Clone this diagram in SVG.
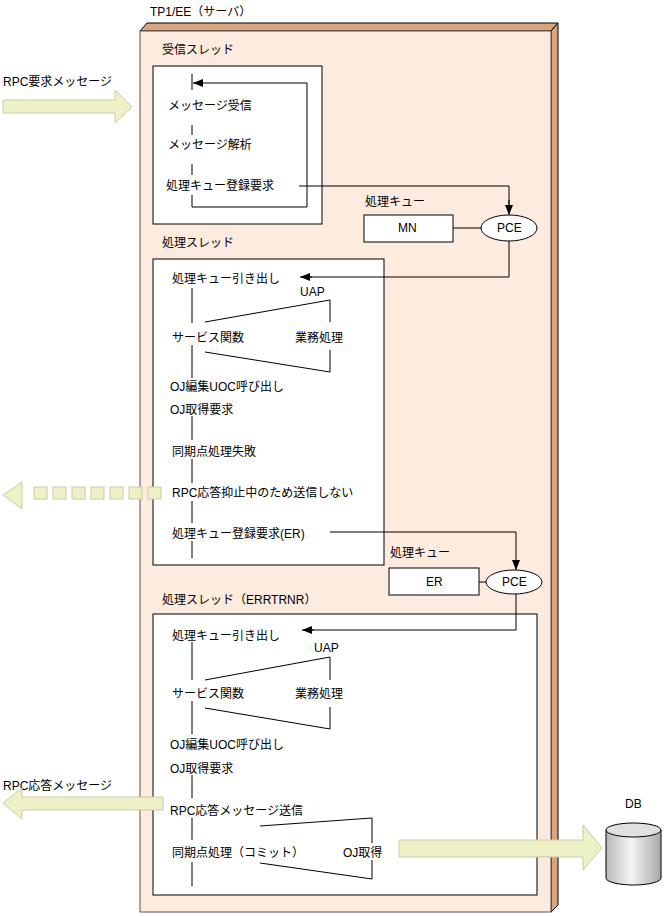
<svg xmlns="http://www.w3.org/2000/svg" width="668" height="916" viewBox="0 0 668 916">
<defs>
<marker id="ah" markerWidth="10" markerHeight="8" refX="10" refY="4" orient="auto" markerUnits="userSpaceOnUse"><path d="M0,0 L10,4 L0,8 z" fill="#000"/></marker>
<linearGradient id="cyl" x1="0" x2="1"><stop offset="0" stop-color="#b8b8b8"/><stop offset="0.45" stop-color="#f4f4f4"/><stop offset="1" stop-color="#a8a8a8"/></linearGradient>
</defs>
<style>
text{font-family:"Liberation Sans","Noto Sans CJK JP",sans-serif;font-size:12px;fill:#000}
.box{fill:#fff;stroke:#000;stroke-width:1}
.ln{fill:none;stroke:#000;stroke-width:1}
.fat{fill:#eef0c6;stroke:#c9cba6;stroke-width:1}
</style>
<rect width="668" height="916" fill="#fff"/>
<g id="server">
<polygon points="140,31 147,23 558,23 551,31" fill="#d9a57e" stroke="#000"/>
<polygon points="551,31 558,23 558,905 551,912" fill="#d9a57e" stroke="#000"/>
<rect x="140" y="31" width="411" height="881" fill="#fdebdf" stroke="#555"/>
<text x="150" y="16">TP1/EE（サーバ）</text>
</g>
<g id="recv-thread">
<text x="162" y="54">受信スレッド</text>
<rect class="box" x="153" y="66" width="169" height="158"/>
<path class="ln" d="M192,74 V90 M192,125 V135 M192,164 V175 M192,195 V207 H307 V83"/>
<line class="ln" x1="307" y1="83" x2="193" y2="83" marker-end="url(#ah)"/>
<text x="168" y="110">メッセージ受信</text>
<text x="168" y="149">メッセージ解析</text>
<text x="166" y="190">処理キュー登録要求</text>
</g>
<g id="queue-mn">
<text x="365" y="206">処理キュー</text>
<rect class="box" x="364" y="215" width="89" height="27"/>
<text x="398" y="232">MN</text>
<ellipse class="box" cx="509" cy="228" rx="28" ry="13"/>
<text x="497" y="232">PCE</text>
</g>
<g id="proc-thread">
<text x="162" y="247">処理スレッド</text>
<rect class="box" x="153" y="259" width="231" height="306"/>
<path class="ln" d="M192,288 V323 M192,345 V378 M192,416 V440 M192,459 V483 M192,501 V523 M192,541 V558"/>
<text x="172" y="283">処理キュー引き出し</text>
<text x="300" y="296">UAP</text>
<path class="ln" d="M205,322 L330,300 V322 M205,352 L330,372 V350"/>
<text x="172" y="342">サービス関数</text>
<text x="295" y="342">業務処理</text>
<text x="170" y="391">OJ編集UOC呼び出し</text>
<text x="170" y="414">OJ取得要求</text>
<text x="172" y="456">同期点処理失敗</text>
<text x="172" y="497">RPC応答抑止中のため送信しない</text>
<text x="172" y="538">処理キュー登録要求(ER)</text>
</g>
<g id="queue-er">
<text x="390" y="557">処理キュー</text>
<rect class="box" x="389" y="568" width="90" height="27"/>
<text x="426" y="586">ER</text>
<ellipse class="box" cx="514" cy="582" rx="28" ry="12"/>
<text x="502" y="586">PCE</text>
</g>
<g id="err-thread">
<text x="162" y="604">処理スレッド（ERRTRNR）</text>
<rect class="box" x="153" y="614" width="384" height="281"/>
<path class="ln" d="M192,642 V680 M192,701 V734 M192,775 V798 M192,818 V840 M192,862 V886"/>
<text x="172" y="640">処理キュー引き出し</text>
<text x="314" y="652">UAP</text>
<path class="ln" d="M205,680 L330,657 V680 M205,708 L330,729 V707"/>
<text x="172" y="698">サービス関数</text>
<text x="295" y="698">業務処理</text>
<text x="170" y="749">OJ編集UOC呼び出し</text>
<text x="170" y="773">OJ取得要求</text>
<text x="170" y="815">RPC応答メッセージ送信</text>
<path class="ln" d="M260,826 L372,818 V843 M260,863 L372,879 V860"/>
<text x="172" y="857">同期点処理（コミット）</text>
<text x="343" y="857">OJ取得</text>
</g>
<g id="db">
<text x="625" y="808">DB</text>
<path d="M606,830 V878 A27.5,7 0 0 0 661,878 V830" fill="url(#cyl)" stroke="#000"/>
<ellipse cx="633.5" cy="830" rx="27.5" ry="7" fill="#e0e0e0" stroke="#000"/>
</g>
<g id="external">
<text x="3" y="86">RPC要求メッセージ</text>
<text x="3" y="790">RPC応答メッセージ</text>
</g>
<g id="connectors">
<path class="ln" d="M299,186 H509 V205"/>
<line class="ln" x1="509" y1="200" x2="509" y2="215" marker-end="url(#ah)"/>
<line class="ln" x1="453" y1="228" x2="481" y2="228"/>
<path class="ln" d="M509,241 V277 H310"/>
<line class="ln" x1="312" y1="277" x2="300" y2="277" marker-end="url(#ah)"/>
<path class="ln" d="M330,532 H516 V555"/>
<line class="ln" x1="516" y1="555" x2="516" y2="570" marker-end="url(#ah)"/>
<line class="ln" x1="479" y1="582" x2="486" y2="582"/>
<path class="ln" d="M516,594 V630 H312"/>
<line class="ln" x1="314" y1="630" x2="302" y2="630" marker-end="url(#ah)"/>
<polygon class="fat" points="3,100 115,100 115,90 132,107 115,123 115,113 3,113"/>
<polygon class="fat" points="3,495 22,482 22,509"/>
<rect class="fat" x="34" y="487" width="13" height="12"/>
<rect class="fat" x="53" y="487" width="13" height="12"/>
<rect class="fat" x="72" y="487" width="13" height="12"/>
<rect class="fat" x="91" y="487" width="13" height="12"/>
<rect class="fat" x="110" y="487" width="13" height="12"/>
<rect class="fat" x="129" y="487" width="13" height="12"/>
<rect class="fat" x="148" y="487" width="13" height="12"/>
<polygon class="fat" points="3,803 22,788 22,797 163,797 163,810 22,810 22,819"/>
<polygon class="fat" points="399,840 583,840 583,825 602,848 583,870 583,857 399,857"/>
</g>
</svg>
